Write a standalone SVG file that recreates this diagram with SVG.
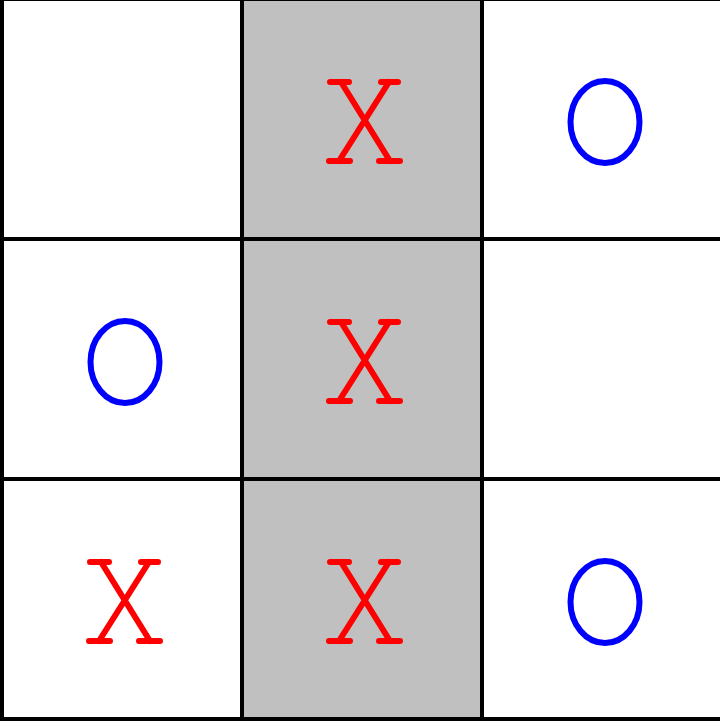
<svg xmlns="http://www.w3.org/2000/svg" width="720" height="722" viewBox="0 0 720 722">
<defs>
<style>
.grid{stroke:#000;stroke-width:4;fill:none}
.x{stroke:#ff0000;stroke-width:6;stroke-linecap:round;fill:none}
.o{stroke:#0000ff;stroke-width:6;fill:none}
</style>
<path id="xmark" class="x" d="M-35,-39.5H-16M16,-39.5H33M-36,39.5H-15M14,39.5H35M-24,-39.5L25,39.5M24,-39.5L-26,39.5"/>
<ellipse id="omark" class="o" cx="0" cy="0" rx="34.5" ry="41"/>
</defs>
<rect x="0" y="0" width="720" height="722" fill="#ffffff"/>
<rect id="highlight" x="242" y="0" width="240" height="719" fill="#c0c0c0"/>
<g id="board" class="grid">
<line x1="2" y1="-1" x2="2" y2="721"/>
<line x1="242" y1="-1" x2="242" y2="721"/>
<line x1="482" y1="-1" x2="482" y2="721"/>
<line x1="0" y1="-1" x2="720" y2="-1"/>
<line x1="0" y1="239" x2="720" y2="239"/>
<line x1="0" y1="479" x2="720" y2="479"/>
<line x1="0" y1="719" x2="720" y2="719"/>
</g>
<g id="cell-0-1"><use href="#xmark" x="365" y="121.5"/></g>
<g id="cell-0-2"><use href="#omark" x="605" y="122"/></g>
<g id="cell-1-0"><use href="#omark" x="125" y="362"/></g>
<g id="cell-1-1"><use href="#xmark" x="365" y="361.5"/></g>
<g id="cell-2-0"><use href="#xmark" x="125" y="601.5"/></g>
<g id="cell-2-1"><use href="#xmark" x="365" y="601.5"/></g>
<g id="cell-2-2"><use href="#omark" x="605" y="602"/></g>
</svg>
